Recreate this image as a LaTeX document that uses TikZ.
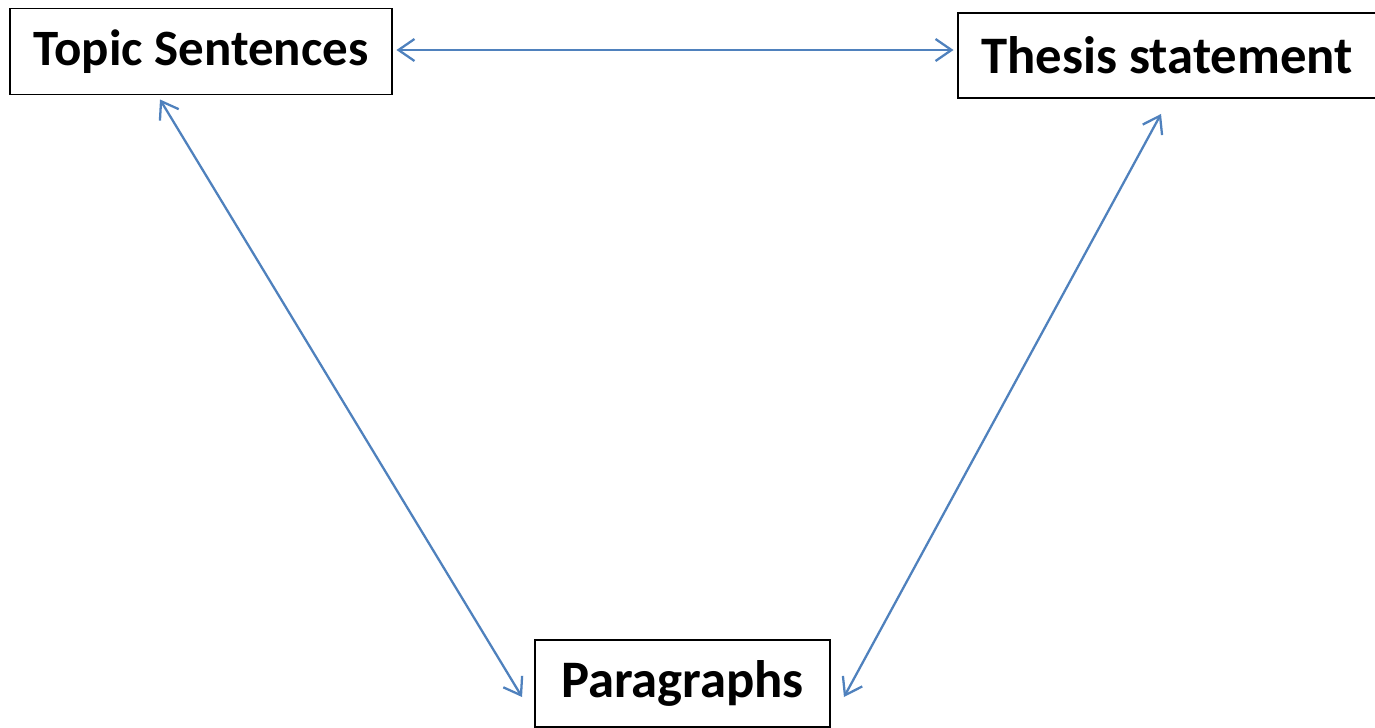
\documentclass[tikz,border=0pt]{standalone}
\usepackage{fontspec}
\setmainfont{Carlito}
\usepackage{tikz}
\usetikzlibrary{positioning,arrows.meta}

\definecolor{linkblue}{RGB}{79,129,189}

\begin{document}
\begin{tikzpicture}[x=0.02cm,y=-0.02cm,
    box/.style={draw,line width=1.1pt,inner sep=0pt,
      font=\fontsize{30}{36}\selectfont\bfseries},
    link/.style={draw=linkblue,line width=1.3pt,
      {Straight Barb[length=3.2mm,width=4.4mm]}-{Straight Barb[length=3.2mm,width=4.4mm]}}]
				% page frame
				\useasboundingbox (0,0) rectangle (1375,727);
				
				% the three boxes
				\node[box,font=\fontsize{29}{35}\selectfont\bfseries,minimum width=382*0.02cm,minimum height=86*0.02cm] (topic) at (201,51.5) {Topic Sentences};
				\node[box,minimum width=418*0.02cm,minimum height=85*0.02cm] (thesis) at (1167,55.5) {Thesis statement};
				\node[box,minimum width=295*0.02cm,minimum height=87*0.02cm] (para) at (682.5,683.5) {Paragraphs};
				
				% arrow ends
				\coordinate (topic-out) at ([shift={(-41,4)}]topic.south);
				\coordinate (thesis-out) at ([shift={(-6,15)}]thesis.south);
				\coordinate (para-left) at ([shift={(-12,13.5)}]para.west);
				\coordinate (para-right) at ([shift={(13,13.5)}]para.east);
				
				% Draw links
				\draw[link] ([xshift=2]topic.east |- 0,50) -- ([xshift=-2]thesis.west |- 0,50);
				\draw[link] (topic-out) -- (para-left);
				\draw[link] (thesis-out) -- (para-right);
			\end{tikzpicture}
\end{document}
